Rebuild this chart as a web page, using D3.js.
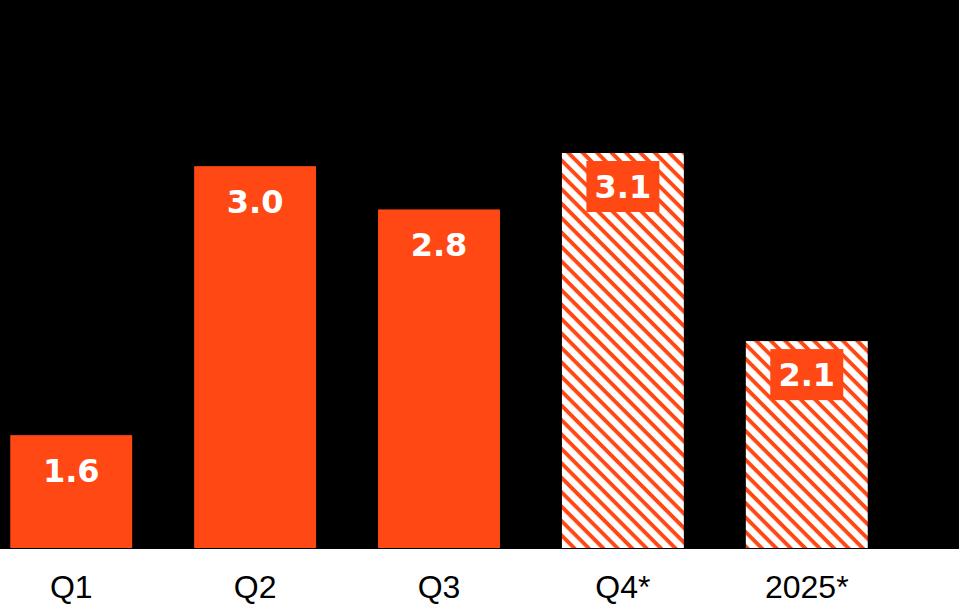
<!DOCTYPE html>
<html><head><meta charset="utf-8">
<script src="https://cdn.jsdelivr.net/npm/d3@7"></script>
<style>html,body{margin:0;padding:0;background:#fff;}svg{display:block;}</style>
</head><body>
<script>
const categories = ["Q1","Q2","Q3","Q4*","2025*"];
const values = [1.6, 3.03, 2.8, 3.1, 2.1];
const labels = ["1.6","3.0","2.8","3.1","2.1"];
const forecast = [false,false,false,true,true];

const W = 959, H = 605;
const orange = "#ff4814";
const svg = d3.select("body").append("svg").attr("width", W).attr("height", H);

const baseY = 548;
const x = d3.scaleBand().domain(categories).range([-21, 899]).paddingInner(0.337).paddingOuter(0.17);
const y = d3.scaleLinear().domain([1, 3.1]).range([baseY, 153]);

const defs = svg.append("defs");
const P = 10.2;
const pat = defs.append("pattern").attr("id","hatch").attr("patternUnits","userSpaceOnUse")
  .attr("width",P).attr("height",P).attr("patternTransform","rotate(45)");
pat.append("rect").attr("width",P).attr("height",P).attr("fill","#fff");
pat.append("rect").attr("x",0).attr("y",0).attr("width",P).attr("height",3.9).attr("fill",orange);

svg.append("rect").attr("x",0).attr("y",0).attr("width",W).attr("height",baseY+1).attr("fill","#000");

const g = svg.append("g");
g.selectAll("rect.bar").data(categories).join("rect").attr("class","bar")
  .attr("x", d => x(d)).attr("width", x.bandwidth())
  .attr("y", (d,i) => y(values[i])).attr("height", (d,i) => baseY - y(values[i]))
  .attr("fill", (d,i) => forecast[i] ? "url(#hatch)" : orange);

const bw = 73, bh = 51;
g.selectAll("rect.lbox").data(categories.filter((d,i)=>forecast[i])).join("rect").attr("class","lbox")
  .attr("x", d => x(d) + x.bandwidth()/2 - bw/2)
  .attr("y", d => y(values[categories.indexOf(d)]) + 8)
  .attr("width", bw).attr("height", bh).attr("fill", orange);

g.selectAll("text.val").data(categories).join("text").attr("class","val")
  .attr("x", d => x(d) + x.bandwidth()/2)
  .attr("y", (d,i) => y(values[i]) + (forecast[i] ? 34 : 36))
  .attr("text-anchor","middle").attr("dominant-baseline","central")
  .attr("font-family","'DejaVu Sans', sans-serif").attr("font-weight","700")
  .attr("font-size",32).attr("fill","#fff")
  .text((d,i) => labels[i]);

const axis = d3.axisBottom(x).tickSize(0).tickPadding(0);
const ax = svg.append("g").attr("transform",`translate(0,${baseY+1})`).call(axis);
ax.select(".domain").remove();
ax.selectAll("text").attr("y", 38).attr("dy", null).attr("dominant-baseline","central")
  .attr("font-family","'Liberation Sans', Arial, sans-serif").attr("font-size",32).attr("fill","#000");
</script>
</body></html>
